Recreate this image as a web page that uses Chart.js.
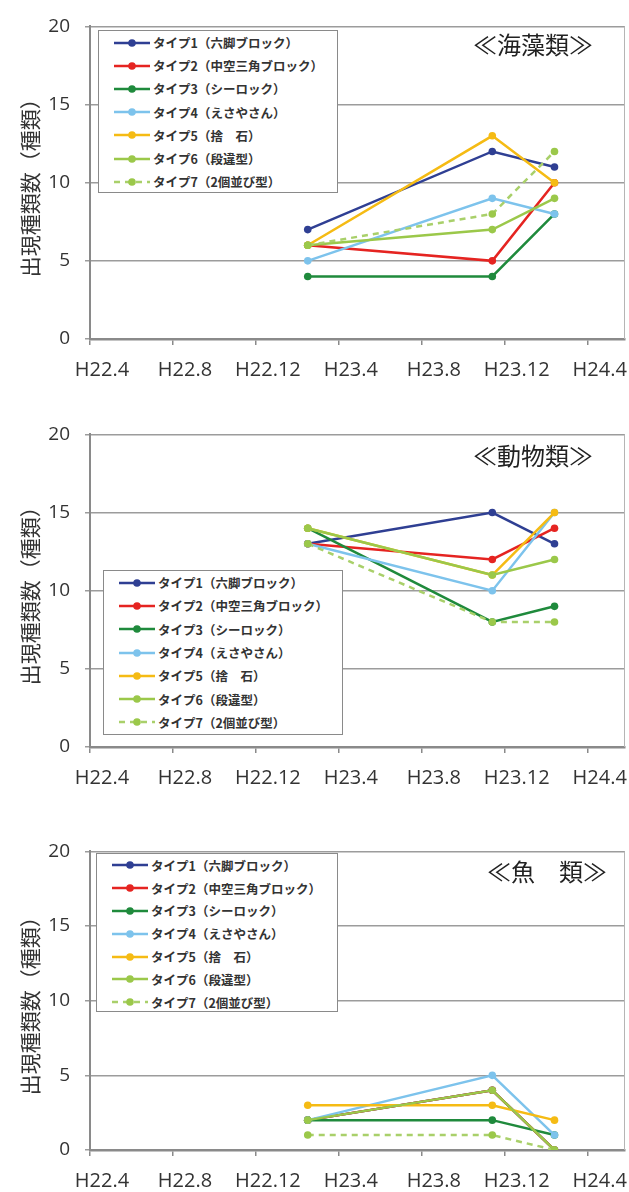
<!DOCTYPE html>
<html>
<head>
<meta charset="utf-8">
<script src="https://cdn.jsdelivr.net/npm/chart.js@4.4.0/dist/chart.umd.min.js"></script>
<style>
  body { margin: 0; background: #fff; width: 629px; height: 1192px; position: relative; overflow: hidden; font-family: "Noto Sans CJK JP", sans-serif; }
  .panel { position: absolute; left: 0; width: 629px; }
  .panel canvas { position: absolute; left: 0; top: 0; }
  .legend { position: absolute; background: #fff; border: 1.5px solid #8a8a8a; box-sizing: border-box; }
  .legend .row { display: flex; align-items: center; font-size: 12.5px; font-weight: bold; color: #333; white-space: nowrap; }
  .legend svg { margin-left: 15px; margin-right: 3px; flex: none; }
  .subtitle { position: absolute; font-size: 24px; line-height: 1; color: #222; white-space: nowrap; }
</style>
</head>
<body>
<div class="panel" id="p1" style="top:0px;height:400px">
  <canvas id="c1" width="629" height="400"></canvas>
  <div class="legend" id="l1" style="left:98px;top:30px;width:240px;height:163px"></div>
  <div class="subtitle" style="left:473px;top:32px">≪海藻類≫</div>
</div>
<div class="panel" id="p2" style="top:407.5px;height:400px">
  <canvas id="c2" width="629" height="400"></canvas>
  <div class="legend" id="l2" style="left:103px;top:162.5px;width:240px;height:165px"></div>
  <div class="subtitle" style="left:473px;top:35px">≪動物類≫</div>
</div>
<div class="panel" id="p3" style="top:825px;height:367px">
  <canvas id="c3" width="629" height="367"></canvas>
  <div class="legend" id="l3" style="left:96px;top:28px;width:242px;height:159px"></div>
  <div class="subtitle" style="left:487px;top:34px">≪魚　類≫</div>
</div>
<script>
// survey dates, in months counted from H22.4
const surveyMonths = [10.5, 19.4, 22.4];
const tickMonths = [0, 4, 8, 12, 16, 20, 24];
const tickLabels = ["H22.4", "H22.8", "H22.12", "H23.4", "H23.8", "H23.12", "H24.4"];

const typeNames = [
    "タイプ1（六脚ブロック）",
    "タイプ2（中空三角ブロック）",
    "タイプ3（シーロック）",
    "タイプ4（えさやさん）",
    "タイプ5（捨　石）",
    "タイプ6（段違型）",
    "タイプ7（2個並び型）"
];

// species counts per type, one value per survey
const seaweed = [
    [7, 12, 11],
    [6, 5, 10],
    [4, 4, 8],
    [5, 9, 8],
    [6, 13, 10],
    [6, 7, 9],
    [6, 8, 12]
];
const animals = [
    [13, 15, 13],
    [13, 12, 14],
    [14, 8, 9],
    [13, 10, 15],
    [14, 11, 15],
    [14, 11, 12],
    [13, 8, 8]
];
const fish = [
    [2, 4, 0],
    [2, 4, 0],
    [2, 2, 1],
    [2, 5, 1],
    [3, 3, 2],
    [2, 4, 0],
    [1, 1, 0]
];

// line styles
const lineColors = ["#2f3f93", "#e52421", "#1f8a3c", "#7dc3ec", "#f5bb14", "#9bc84a", "#a9d06a"];
const pointColors = ["#2f3f93", "#e52421", "#1f8a3c", "#7dc3ec", "#f5bb14", "#9bc84a", "#9bc84a"];
const dashes = [[], [], [], [], [], [], [6, 5]];

const axisGrey = "#8a8a8a";
const tickFont = { family: "'Open Sans'", size: 20 };

// thin right edge of the plot frame
const frameRight = {
    id: "frameRight",
    beforeDatasetsDraw(chart) {
        const { ctx, chartArea: a } = chart;
        ctx.save();
        ctx.strokeStyle = "#b5b5b5";
        ctx.lineWidth = 1;
        ctx.beginPath();
        ctx.moveTo(a.right - 0.5, a.top);
        ctx.lineTo(a.right - 0.5, a.bottom);
        ctx.stroke();
        ctx.restore();
    }
};

const makeChart = (canvasId, values, xHeight) => {
    const datasets = values.map((vals, i) => ({
        label: typeNames[i],
        data: surveyMonths.map((m, j) => ({ x: m, y: vals[j] })),
        borderColor: lineColors[i],
        backgroundColor: pointColors[i],
        pointBackgroundColor: pointColors[i],
        pointBorderColor: pointColors[i],
        pointRadius: 3.8,
        pointBorderWidth: 0,
        borderWidth: 2.5,
        borderDash: dashes[i],
        tension: 0,
        order: 7 - i
    }));

    return new Chart(document.getElementById(canvasId), {
        type: "line",
        data: { datasets: datasets },
        plugins: [frameRight],
        options: {
            responsive: false,
            animation: false,
            layout: { padding: { top: 18.5, right: 2, left: 0, bottom: 0 } },
            scales: {
                x: {
                    type: "linear",
                    min: 0,
                    max: 25.8,
                    afterBuildTicks: (scale) => {
                        scale.ticks = tickMonths.map(v => ({ value: v }));
                    },
                    afterFit: (scale) => { scale.height = xHeight; },
                    grid: {
                        drawOnChartArea: false,
                        tickLength: 6,
                        color: axisGrey,
                        lineWidth: 1.5
                    },
                    border: { color: axisGrey, width: 2.5 },
                    ticks: {
                        font: tickFont,
                        color: "#333",
                        padding: 13,
                        labelOffset: 12,
                        maxRotation: 0,
                        autoSkip: false,
                        callback: (value) => tickLabels[tickMonths.indexOf(value)]
                    }
                },
                y: {
                    min: 0,
                    max: 20,
                    afterFit: (scale) => { scale.width = 90; },
                    title: {
                        display: true,
                        text: "出現種類数（種類）",
                        color: "#333",
                        font: { family: "'Noto Sans CJK JP'", size: 21 },
                        padding: { top: 17, bottom: 0 }
                    },
                    grid: { color: "#9c9c9c", lineWidth: 1.5, tickLength: 5 },
                    border: { color: axisGrey, width: 2 },
                    ticks: {
                        stepSize: 5,
                        font: { family: "'Open Sans'", size: 19 },
                        color: "#333",
                        padding: 15
                    }
                }
            },
            plugins: {
                legend: { display: false },
                tooltip: { enabled: false }
            }
        }
    });
};

// legend box drawn as html next to the canvas
const makeLegend = (boxId, rowHeight) => {
    const box = document.getElementById(boxId);
    typeNames.forEach((name, i) => {
        const row = document.createElement("div");
        row.className = "row";
        row.style.height = rowHeight + "px";
        const dash = dashes[i].length ? `stroke-dasharray="${dashes[i].join(" ")}"` : "";
        row.innerHTML =
            `<svg width="36" height="10"><line x1="0" y1="5" x2="36" y2="5" stroke="${lineColors[i]}" stroke-width="2.5" ${dash}/>` +
            `<circle cx="18" cy="5" r="3.8" fill="${pointColors[i]}"/></svg><span>${name}</span>`;
        box.appendChild(row);
    });
};

makeChart("c1", seaweed, 61);
makeChart("c2", animals, 61);
makeChart("c3", fish, 42);

makeLegend("l1", 23.2);
makeLegend("l2", 23.3);
makeLegend("l3", 22.8);
</script>
</body>
</html>
